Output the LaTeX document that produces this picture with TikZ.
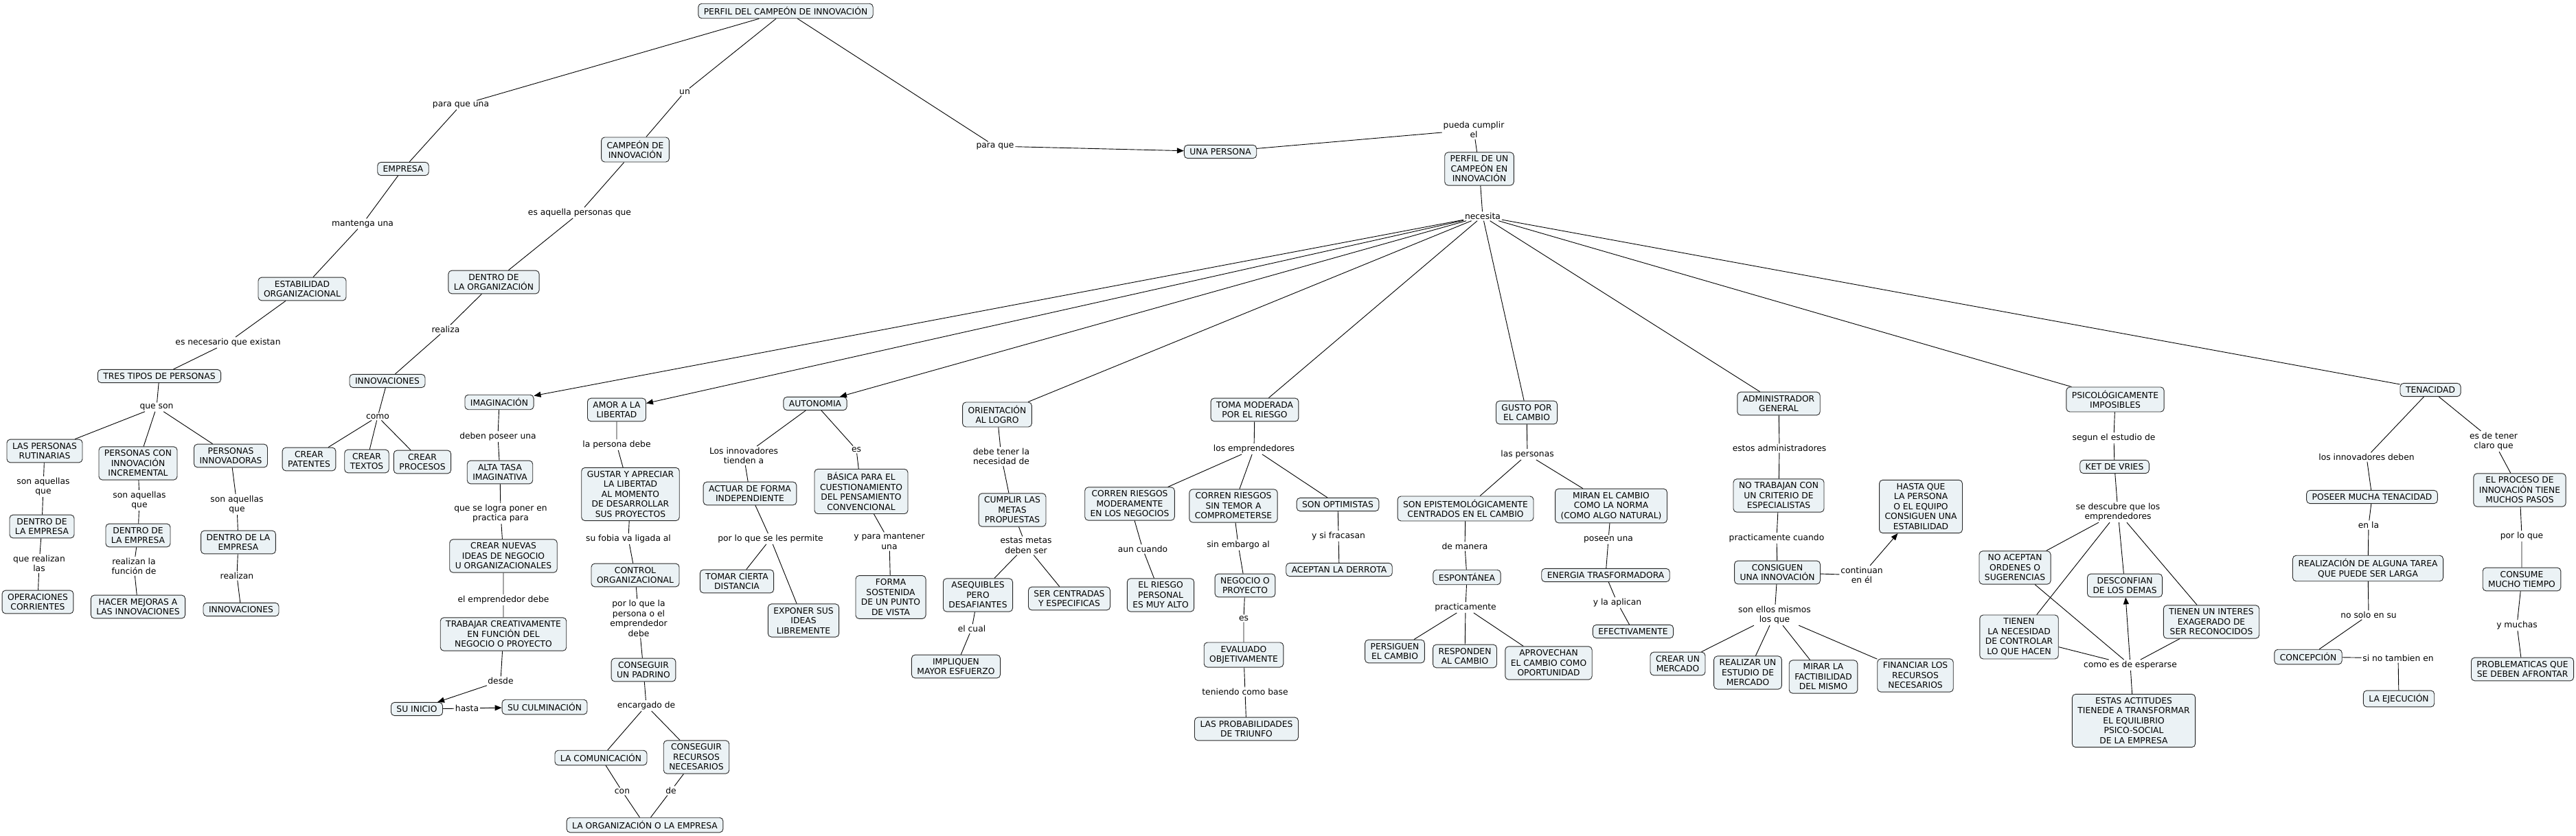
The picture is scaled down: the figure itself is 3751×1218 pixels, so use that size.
\documentclass[tikz,border=0pt]{standalone}
\usepackage{fontspec}
\setmainfont{DejaVu Sans}
\usetikzlibrary{arrows.meta}
\definecolor{conceptfill}{RGB}{235,242,245}
\definecolor{conceptline}{RGB}{40,40,40}

\begin{document}
\begin{tikzpicture}[x=1pt, y=-1pt, >={Triangle[length=10pt,width=8pt]},
  concept/.style={draw=conceptline, rounded corners=5pt, fill=conceptfill, align=center,
    inner xsep=8pt, inner ysep=5pt, font=\fontsize{12.3}{14.5}\selectfont},
  lnk/.style={inner sep=1.5pt, align=center, font=\fontsize{12.3}{14.5}\selectfont},
  every path/.style={line width=0.9pt}]
  \useasboundingbox (0,0) rectangle (3751,1218);

  % top of the map
  \node[concept] (top) at (1144,16) {PERFIL DEL CAMPEÓN DE INNOVACIÓN};
  \node[concept] (emp) at (587,246) {EMPRESA};
  \node[concept] (camp) at (925,218) {CAMPEÓN DE\\INNOVACIÓN};
  \node[concept] (una) at (1777,221) {UNA PERSONA};
  \node[concept] (perfil) at (2154,246) {PERFIL DE UN\\CAMPEÓN EN\\INNOVACIÓN};
  \node[lnk] (lpu) at (671,153) {para que una};
  \node[lnk] (lun) at (997,134) {un};
  \node[lnk] (lpq) at (1449,213) {para que};
  \node[lnk] (lpc) at (2146,189) {pueda cumplir\\el};
  \node[lnk] (lnecesita) at (2159,315) {necesita};

  % left branch
  \node[concept] (estab) at (440,421) {ESTABILIDAD\\ORGANIZACIONAL};
  \node[concept] (dorg) at (719,411) {DENTRO DE\\LA ORGANIZACIÓN};
  \node[concept] (tres) at (232,548) {TRES TIPOS DE PERSONAS};
  \node[concept] (innovA) at (564,555) {INNOVACIONES};
  \node[concept] (rut) at (65,657) {LAS PERSONAS\\RUTINARIAS};
  \node[concept] (incr) at (201,675) {PERSONAS CON\\INNOVACIÓN\\INCREMENTAL};
  \node[concept] (innov) at (336,664) {PERSONAS\\INNOVADORAS};
  \node[concept] (dem1) at (61,767) {DENTRO DE\\LA EMPRESA};
  \node[concept] (dem2) at (201,780) {DENTRO DE\\LA EMPRESA};
  \node[concept] (dem3) at (347,790) {DENTRO DE LA\\EMPRESA};
  \node[concept] (oper) at (55,877) {OPERACIONES\\CORRIENTES};
  \node[concept] (mejor) at (201,884) {HACER MEJORAS A\\LAS INNOVACIONES};
  \node[concept] (innovB) at (351,888) {INNOVACIONES};
  \node[concept] (pat) at (450,669) {CREAR\\PATENTES};
  \node[concept] (txt) at (534,672) {CREAR\\TEXTOS};
  \node[concept] (proc) at (615,673) {CREAR\\PROCESOS};
  \node[lnk] (lmant) at (528,326) {mantenga una};
  \node[lnk] (lexist) at (332,499) {es necesario que existan};
  \node[lnk] (lqson) at (228,593) {que son};
  \node[lnk] (lsa1) at (63,709) {son aquellas\\que};
  \node[lnk] (lsa2) at (203,729) {son aquellas\\que};
  \node[lnk] (lsa3) at (345,735) {son aquellas\\que};
  \node[lnk] (lqr) at (57,821) {que realizan\\las};
  \node[lnk] (lrf) at (195,825) {realizan la\\función de};
  \node[lnk] (lrz) at (345,839) {realizan};
  \node[lnk] (lesa) at (844,310) {es aquella personas que};
  \node[lnk] (lrea) at (649,480) {realiza};
  \node[lnk] (lcomo) at (550,607) {como};

  % imaginacion and libertad
  \node[concept] (imag) at (727,586) {IMAGINACIÓN};
  \node[concept] (alta) at (728,688) {ALTA TASA\\IMAGINATIVA};
  \node[concept] (ideas) at (733,810) {CREAR NUEVAS\\IDEAS DE NEGOCIO\\U ORGANIZACIONALES};
  \node[concept] (trab) at (733,924) {TRABAJAR CREATIVAMENTE\\EN FUNCIÓN DEL\\NEGOCIO O PROYECTO};
  \node[concept] (ini) at (607,1033) {SU INICIO};
  \node[concept] (culm) at (793,1030) {SU CULMINACIÓN};
  \node[concept] (amor) at (898,597) {AMOR A LA\\LIBERTAD};
  \node[concept] (gust) at (918,720) {GUSTAR Y APRECIAR\\LA LIBERTAD\\AL MOMENTO\\DE DESARROLLAR\\SUS PROYECTOS};
  \node[concept] (ctrl) at (925,838) {CONTROL\\ORGANIZACIONAL};
  \node[concept] (padr) at (937,976) {CONSEGUIR\\UN PADRINO};
  \node[concept] (comu) at (875,1104) {LA COMUNICACIÓN};
  \node[concept] (recu) at (1014,1103) {CONSEGUIR\\RECURSOS\\NECESARIOS};
  \node[concept] (orgemp) at (939,1202) {LA ORGANIZACIÓN O LA EMPRESA};
  \node[lnk] (ldp) at (725,636) {deben poseer una};
  \node[lnk] (llp) at (729,748) {que se logra poner en\\practica para};
  \node[lnk] (led) at (733,874) {el emprendedor debe};
  \node[lnk] (ldesde) at (729,992) {desde};
  \node[lnk] (lhasta) at (680,1032) {hasta};
  \node[lnk] (lpd) at (898,648) {la persona debe};
  \node[lnk] (lfob) at (915,785) {su fobia va ligada al};
  \node[lnk] (lplq) at (930,901) {por lo que la\\persona o el\\emprendedor\\debe};
  \node[lnk] (lenc) at (941,1028) {encargado de};
  \node[lnk] (lcon) at (906,1153) {con};
  \node[lnk] (lde) at (977,1152) {de};

  % autonomia and logro
  \node[concept] (auto) at (1187,588) {AUTONOMIA};
  \node[concept] (actu) at (1092,719) {ACTUAR DE FORMA\\INDEPENDIENTE};
  \node[concept] (basi) at (1254,716) {BÁSICA PARA EL\\CUESTIONAMIENTO\\DEL PENSAMIENTO\\CONVENCIONAL};
  \node[concept] (toma) at (1073,847) {TOMAR CIERTA\\DISTANCIA};
  \node[concept] (expo) at (1170,904) {EXPONER SUS\\IDEAS\\LIBREMENTE};
  \node[concept] (forma) at (1297,870) {FORMA\\SOSTENIDA\\DE UN PUNTO\\DE VISTA};
  \node[concept] (orie) at (1452,604) {ORIENTACIÓN\\AL LOGRO};
  \node[concept] (cump) at (1474,743) {CUMPLIR LAS\\METAS\\PROPUESTAS};
  \node[concept] (aseq) at (1424,867) {ASEQUIBLES\\PERO\\DESAFIANTES};
  \node[concept] (cent) at (1557,872) {SER CENTRADAS\\Y ESPECIFICAS};
  \node[concept] (impl) at (1392,971) {IMPLIQUEN\\MAYOR ESFUERZO};
  \node[lnk] (lti) at (1083,664) {Los innovadores\\tienden a};
  \node[lnk] (lesA) at (1247,655) {es};
  \node[lnk] (lpls) at (1122,785) {por lo que se les permite};
  \node[lnk] (lypm) at (1295,789) {y para mantener\\una};
  \node[lnk] (ldt) at (1458,665) {debe tener la\\necesidad de};
  \node[lnk] (lem) at (1494,795) {estas metas\\deben ser};
  \node[lnk] (lec) at (1415,916) {el cual};

  % riesgo
  \node[concept] (riesgo) at (1827,597) {TOMA MODERADA\\POR EL RIESGO};
  \node[concept] (corm) at (1645,734) {CORREN RIESGOS\\MODERAMENTE\\EN LOS NEGOCIOS};
  \node[concept] (cors) at (1796,737) {CORREN RIESGOS\\SIN TEMOR A\\COMPROMETERSE};
  \node[concept] (opti) at (1948,735) {SON OPTIMISTAS};
  \node[concept] (pers) at (1690,867) {EL RIESGO\\PERSONAL\\ES MUY ALTO};
  \node[concept] (nego) at (1813,853) {NEGOCIO O\\PROYECTO};
  \node[concept] (acep) at (1950,830) {ACEPTAN LA DERROTA};
  \node[concept] (eval) at (1811,954) {EVALUADO\\OBJETIVAMENTE};
  \node[concept] (prob) at (1815,1062) {LAS PROBABILIDADES\\DE TRIUNFO};
  \node[lnk] (lle) at (1826,654) {los emprendedores};
  \node[lnk] (lac) at (1664,800) {aun cuando};
  \node[lnk] (lse) at (1803,794) {sin embargo al};
  \node[lnk] (lysf) at (1949,781) {y si fracasan};
  \node[lnk] (lesB) at (1811,901) {es};
  \node[lnk] (ltcb) at (1813,1008) {teniendo como base};

  % cambio
  \node[concept] (gusto) at (2223,601) {GUSTO POR\\EL CAMBIO};
  \node[concept] (epis) at (2134,741) {SON EPISTEMOLÓGICAMENTE\\CENTRADOS EN EL CAMBIO};
  \node[concept] (mira) at (2346,737) {MIRAN EL CAMBIO\\COMO LA NORMA\\(COMO ALGO NATURAL)};
  \node[concept] (espo) at (2136,841) {ESPONTÁNEA};
  \node[concept] (ener) at (2338,838) {ENERGIA TRASFORMADORA};
  \node[concept] (efec) at (2378,920) {EFECTIVAMENTE};
  \node[concept] (persi) at (2031,949) {PERSIGUEN\\EL CAMBIO};
  \node[concept] (resp) at (2133,956) {RESPONDEN\\AL CAMBIO};
  \node[concept] (apro) at (2255,966) {APROVECHAN\\EL CAMBIO COMO\\OPORTUNIDAD};
  \node[lnk] (llpe) at (2224,662) {las personas};
  \node[lnk] (ldm) at (2133,796) {de manera};
  \node[lnk] (lposu) at (2342,786) {poseen una};
  \node[lnk] (lpr) at (2134,885) {practicamente};
  \node[lnk] (lyla) at (2355,878) {y la aplican};

  % administrador
  \node[concept] (admin) at (2590,588) {ADMINISTRADOR\\GENERAL};
  \node[concept] (notr) at (2590,722) {NO TRABAJAN CON\\UN CRITERIO DE\\ESPECIALISTAS};
  \node[concept] (cons) at (2588,834) {CONSIGUEN\\UNA INNOVACIÓN};
  \node[concept] (hasta) at (2797,738) {HASTA QUE\\LA PERSONA\\O EL EQUIPO\\CONSIGUEN UNA\\ESTABILIDAD};
  \node[concept] (merc) at (2443,967) {CREAR UN\\MERCADO};
  \node[concept] (estu) at (2545,980) {REALIZAR UN\\ESTUDIO DE\\MERCADO};
  \node[concept] (fact) at (2655,986) {MIRAR LA\\FACTIBILIDAD\\DEL MISMO};
  \node[concept] (finan) at (2789,984) {FINANCIAR LOS\\RECURSOS\\NECESARIOS};
  \node[lnk] (lea) at (2591,653) {estos administradores};
  \node[lnk] (lpcu) at (2587,784) {practicamente cuando};
  \node[lnk] (lcont) at (2711,838) {continuan\\en él};
  \node[lnk] (lsem) at (2584,896) {son ellos mismos\\los que};

  % psicologicamente imposibles
  \node[concept] (psic) at (3080,582) {PSICOLÓGICAMENTE\\IMPOSIBLES};
  \node[concept] (ket) at (3079,680) {KET DE VRIES};
  \node[concept] (noac) at (2934,827) {NO ACEPTAN\\ORDENES O\\SUGERENCIAS};
  \node[concept] (desc) at (3094,853) {DESCONFIAN\\DE LOS DEMAS};
  \node[concept] (inte) at (3220,906) {TIENEN UN INTERES\\EXAGERADO DE\\SER RECONOCIDOS};
  \node[concept] (nece) at (2940,928) {TIENEN\\LA NECESIDAD\\DE CONTROLAR\\LO QUE HACEN};
  \node[concept] (acti) at (3107,1050) {ESTAS ACTITUDES\\TIENEDE A TRANSFORMAR\\EL EQUILIBRIO\\PSICO-SOCIAL\\DE LA EMPRESA};
  \node[lnk] (lseg) at (3078,638) {segun el estudio de};
  \node[lnk] (lsd) at (3084,746) {se descubre que los\\emprendedores};
  \node[lnk] (lces) at (3102,969) {como es de esperarse};

  % tenacidad
  \node[concept] (tena) at (3539,568) {TENACIDAD};
  \node[concept] (pose) at (3454,724) {POSEER MUCHA TENACIDAD};
  \node[concept] (proce) at (3669,714) {EL PROCESO DE\\INNOVACIÓN TIENE\\MUCHOS PASOS};
  \node[concept] (real) at (3448,828) {REALIZACIÓN DE ALGUNA TAREA\\QUE PUEDE SER LARGA};
  \node[concept] (consu) at (3672,844) {CONSUME\\MUCHO TIEMPO};
  \node[concept] (conc) at (3361,957) {CONCEPCIÓN};
  \node[concept] (ejec) at (3493,1018) {LA EJECUCIÓN};
  \node[concept] (probl) at (3673,975) {PROBLEMATICAS QUE\\SE DEBEN AFRONTAR};
  \node[lnk] (lid) at (3446,666) {los innovadores deben};
  \node[lnk] (ltcq) at (3631,643) {es de tener\\claro que};
  \node[lnk] (lenla) at (3449,765) {en la};
  \node[lnk] (lplqB) at (3672,781) {por lo que};
  \node[lnk] (lns) at (3449,896) {no solo en su};
  \node[lnk] (lym) at (3665,911) {y muchas};
  \node[lnk] (lsnt) at (3492,959) {si no tambien en};

  % connectors
  \draw (top) -- (lpu) -- (emp) -- (lmant) -- (estab) -- (lexist) -- (tres) -- (lqson);
  \draw (lqson) -- (rut) (lqson) -- (incr) (lqson) -- (innov);
  \draw (rut) -- (lsa1) -- (dem1) -- (lqr) -- (oper);
  \draw (incr) -- (lsa2) -- (dem2) -- (lrf) -- (mejor);
  \draw (innov) -- (lsa3) -- (dem3) -- (lrz) -- (innovB);
  \draw (top) -- (lun) -- (camp) -- (lesa) -- (dorg) -- (lrea) -- (innovA) -- (lcomo);
  \draw (lcomo) -- (pat) (lcomo) -- (txt) (lcomo) -- (proc);
  \draw (top) -- (lpq);
  \draw[->] (lpq) -- (una);
  \draw (una) -- (lpc) -- (perfil) -- (lnecesita);
  \draw[->] (lnecesita) -- (imag);
  \draw[->] (lnecesita) -- (amor);
  \draw[->] (lnecesita) -- (auto);
  \foreach \kid in {orie, riesgo, gusto, admin, psic, tena}
    \draw (lnecesita) -- (\kid);
  \draw (imag) -- (ldp) -- (alta) -- (llp) -- (ideas) -- (led) -- (trab) -- (ldesde);
  \draw[->] (ldesde) -- (ini);
  \draw (ini) -- (lhasta);
  \draw[->] (lhasta) -- (culm);
  \draw (amor) -- (lpd) -- (gust) -- (lfob) -- (ctrl) -- (lplq) -- (padr) -- (lenc);
  \draw (lenc) -- (comu) -- (lcon) -- (orgemp);
  \draw (lenc) -- (recu) -- (lde) -- (orgemp);
  \draw (auto) -- (lti) -- (actu) -- (lpls);
  \draw (lpls) -- (toma) (lpls) -- (expo);
  \draw (auto) -- (lesA) -- (basi) -- (lypm) -- (forma);
  \draw (orie) -- (ldt) -- (cump) -- (lem);
  \draw (lem) -- (aseq) (lem) -- (cent);
  \draw (aseq) -- (lec) -- (impl);
  \draw (riesgo) -- (lle);
  \draw (lle) -- (corm) (lle) -- (cors) (lle) -- (opti);
  \draw (corm) -- (lac) -- (pers);
  \draw (cors) -- (lse) -- (nego) -- (lesB) -- (eval) -- (ltcb) -- (prob);
  \draw (opti) -- (lysf) -- (acep);
  \draw (gusto) -- (llpe);
  \draw (llpe) -- (epis) (llpe) -- (mira);
  \draw (epis) -- (ldm) -- (espo) -- (lpr);
  \draw (lpr) -- (persi) (lpr) -- (resp) (lpr) -- (apro);
  \draw (mira) -- (lposu) -- (ener) -- (lyla) -- (efec);
  \draw (admin) -- (lea) -- (notr) -- (lpcu) -- (cons) -- (lcont);
  \draw[->] (lcont) -- (hasta);
  \draw (cons) -- (lsem);
  \foreach \kid in {merc, estu, fact, finan}
    \draw (lsem) -- (\kid);
  \draw (psic) -- (lseg) -- (ket) -- (lsd);
  \foreach \kid in {noac, nece, desc, inte}
    \draw (lsd) -- (\kid);
  \foreach \kid in {noac, nece, inte, acti}
    \draw (\kid) -- (lces);
  \draw[->] (lces) -- (desc);
  \draw (tena) -- (lid) -- (pose) -- (lenla) -- (real) -- (lns) -- (conc) -- (lsnt) -- (ejec);
  \draw (tena) -- (ltcq) -- (proce) -- (lplqB) -- (consu) -- (lym) -- (probl);
\end{tikzpicture}
\end{document}
